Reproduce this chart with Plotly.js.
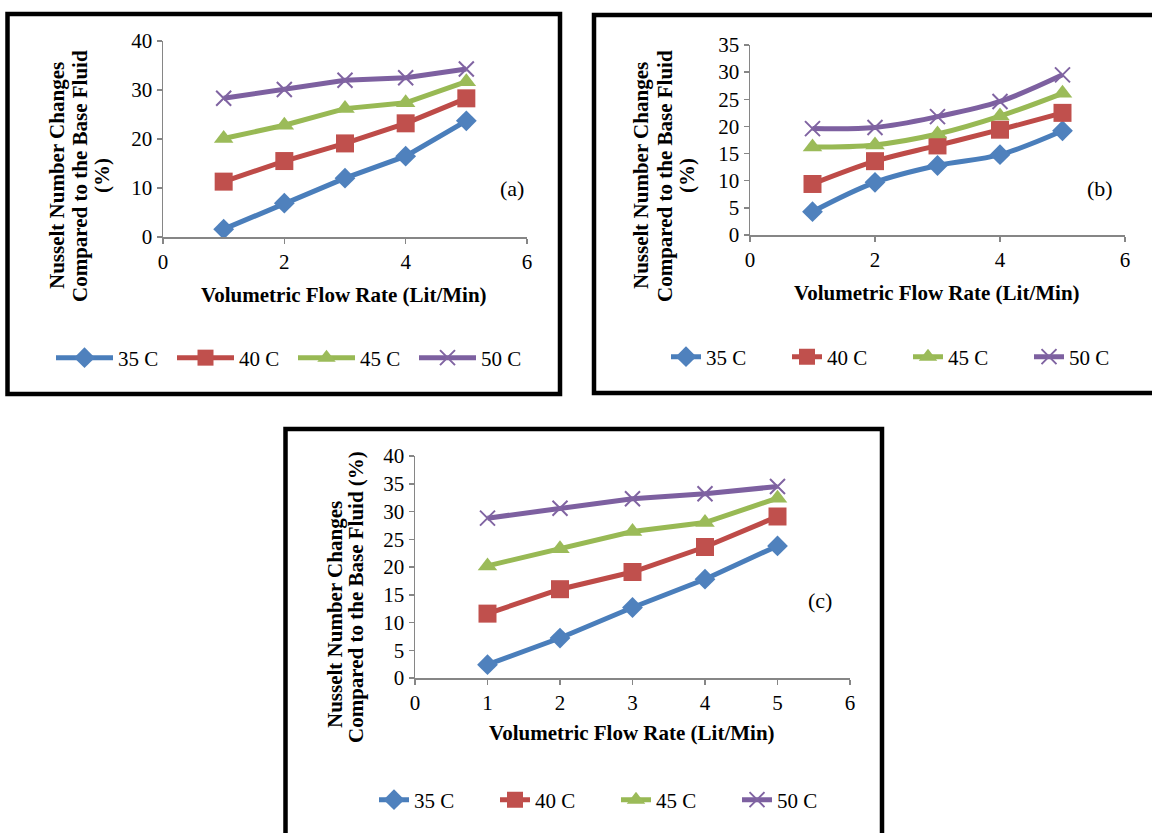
<!DOCTYPE html>
<html>
<head>
<meta charset="utf-8">
<script src="https://cdn.plot.ly/plotly-3.0.1.min.js"></script>
<style>html,body{margin:0;padding:0;background:#fff;}#chart{width:1152px;height:833px;}</style>
</head>
<body>
<div id="chart"></div>
<script>
// ---- data ----
const flowRate = [1, 2, 3, 4, 5];
const seriesNames = ["35 C", "40 C", "45 C", "50 C"];
const panelLabels = ["(a)", "(b)", "(c)"];
const xTitle = "Volumetric Flow Rate (Lit/Min)";

const a35 = [1.6, 6.9, 12.0, 16.5, 23.7];
const a40 = [11.3, 15.5, 19.1, 23.2, 28.3];
const a45 = [20.1, 22.8, 26.2, 27.4, 31.7];
const a50 = [28.3, 30.1, 32.0, 32.5, 34.3];

const b35 = [4.3, 9.7, 12.8, 14.8, 19.2];
const b40 = [9.4, 13.6, 16.5, 19.4, 22.5];
const b45 = [16.2, 16.6, 18.6, 21.9, 26.1];
const b50 = [19.6, 19.8, 21.8, 24.6, 29.5];

const c35 = [2.4, 7.2, 12.7, 17.8, 23.8];
const c40 = [11.6, 16.0, 19.1, 23.6, 29.1];
const c45 = [20.2, 23.3, 26.4, 28.0, 32.4];
const c50 = [28.8, 30.6, 32.3, 33.2, 34.5];

// ---- styling ----
const W = 1152, H = 833;
const X = p => p / W;
const Y = p => 1 - p / H;
const FONT = "Liberation Serif";
const colors = ["#4A7EBB", "#BE4B48", "#98B954", "#7D60A0"];
const markers = [
  {symbol: "diamond", size: 16, color: "#4F81BD"},
  {symbol: "square", size: 18, color: "#C0504D"},
  {symbol: "triangle-up", size: 17, color: "#9BBB59"},
  {symbol: "x-thin", size: 15, color: "#8064A2", line: {color: "#8064A2", width: 2}}
];

const panels = [
  {data: [a35, a40, a45, a50], xs: "x", ys: "y", leg: "legend", shape: "linear"},
  {data: [b35, b40, b45, b50], xs: "x2", ys: "y2", leg: "legend2", shape: "spline"},
  {data: [c35, c40, c45, c50], xs: "x3", ys: "y3", leg: "legend3", shape: "linear"}
];

const traces = [];
panels.forEach(p => {
  p.data.forEach((vals, i) => {
    traces.push({
      x: flowRate, y: vals, xaxis: p.xs, yaxis: p.ys, legend: p.leg,
      name: seriesNames[i], type: "scatter", mode: "lines+markers",
      line: {color: colors[i], width: 5, shape: p.shape},
      marker: markers[i], hoverinfo: "x+y"
    });
  });
});

const tickFont = {family: FONT, size: 21, color: "#000"};
function xax(d0, d1, dtick, anchor) {
  return {domain: [X(d0), X(d1)], range: [0, 6], dtick: dtick, tick0: 0, anchor: anchor,
    showline: true, linecolor: "#868686", linewidth: 1.5, ticks: "outside", ticklen: 5,
    tickcolor: "#868686", tickwidth: 1.5, showgrid: false, zeroline: false,
    tickfont: tickFont, fixedrange: true, automargin: false};
}
function yax(top, bottom, max, dtick, anchor) {
  return {domain: [Y(bottom), Y(top)], range: [0, max], dtick: dtick, tick0: 0, anchor: anchor,
    showline: true, linecolor: "#868686", linewidth: 1.5, ticks: "outside", ticklen: 5,
    tickcolor: "#868686", tickwidth: 1.5, showgrid: false, zeroline: false,
    tickfont: tickFont, fixedrange: true, automargin: false};
}
function leg(x, y) {
  return {orientation: "h", x: X(x), y: Y(y), xanchor: "left", yanchor: "middle",
    entrywidth: 76, entrywidthmode: "pixels", bgcolor: "rgba(0,0,0,0)", borderwidth: 0,
    font: {family: FONT, size: 21, color: "#000"}, traceorder: "normal", itemclick: false};
}
function ann(text, x, y, opts) {
  return Object.assign({text: text, x: X(x), y: Y(y), xref: "paper", yref: "paper",
    showarrow: false, xanchor: "center", yanchor: "middle",
    font: {family: FONT, size: 22, color: "#000"}}, opts || {});
}
const bold = {family: FONT, size: 21, color: "#000"};

const annotations = [
  ann(panelLabels[0], 512, 189),
  ann(panelLabels[1], 1100, 188),
  ann(panelLabels[2], 820, 600),
  ann("<b>" + xTitle + "</b>", 344, 295, {font: bold}),
  ann("<b>" + xTitle + "</b>", 937, 293, {font: bold}),
  ann("<b>" + xTitle + "</b>", 632, 733, {font: bold}),
  ann("<b>Nusselt Number Changes</b>", 57, 176, {textangle: -90, font: bold}),
  ann("<b>Compared to the Base Fluid</b>", 80, 176, {textangle: -90, font: bold}),
  ann("<b>(%)</b>", 102, 176, {textangle: -90, font: bold}),
  ann("<b>Nusselt Number Changes</b>", 641, 176, {textangle: -90, font: bold}),
  ann("<b>Compared to the Base Fluid</b>", 665, 176, {textangle: -90, font: bold}),
  ann("<b>(%)</b>", 687, 176, {textangle: -90, font: bold}),
  ann("<b>Nusselt Number Changes</b>", 335, 615, {textangle: -90, font: bold}),
  ann("<b>Compared to the Base Fluid (%)</b>", 356, 597, {textangle: -90, font: bold})
];

function box(x0, y0, x1, y1) {
  return {type: "rect", xref: "paper", yref: "paper", x0: X(x0), x1: X(x1), y0: Y(y1), y1: Y(y0),
    line: {color: "#000", width: 4.5}, fillcolor: "rgba(0,0,0,0)", layer: "below"};
}

const layout = {
  width: W, height: H, margin: {l: 0, r: 0, t: 0, b: 0, autoexpand: false},
  paper_bgcolor: "#fff", plot_bgcolor: "rgba(0,0,0,0)", showlegend: true,
  font: {family: FONT, color: "#000"},
  xaxis: xax(163, 527, 2, "y"), yaxis: yax(41, 237, 40, 10, "x"),
  xaxis2: xax(750, 1125, 2, "y2"), yaxis2: yax(45, 235, 35, 5, "x2"),
  xaxis3: xax(415, 850, 1, "y3"), yaxis3: yax(456, 678, 40, 5, "x3"),
  legend: leg(78, 358), legend2: leg(666, 357), legend3: leg(374, 800),
  annotations: annotations,
  shapes: [box(7.5, 14, 560, 394), box(594, 15, 1165, 393), box(285.5, 429, 882, 850)]
};

Plotly.newPlot("chart", traces, layout, {displayModeBar: false, staticPlot: true}).then(gd => {
  // lengthen legend sample lines to match the reference (line ends just before the text)
  gd.querySelectorAll(".legend .scrollbox").forEach(s => s.removeAttribute("clip-path"));
  gd.querySelectorAll(".legend .legendlines path").forEach(p => p.setAttribute("d", "M-22,0h57"));
  gd.querySelectorAll(".legend .legendpoints path.scatterpts").forEach(p => p.setAttribute("transform", "translate(6.5,0)"));
});
</script>
</body>
</html>
